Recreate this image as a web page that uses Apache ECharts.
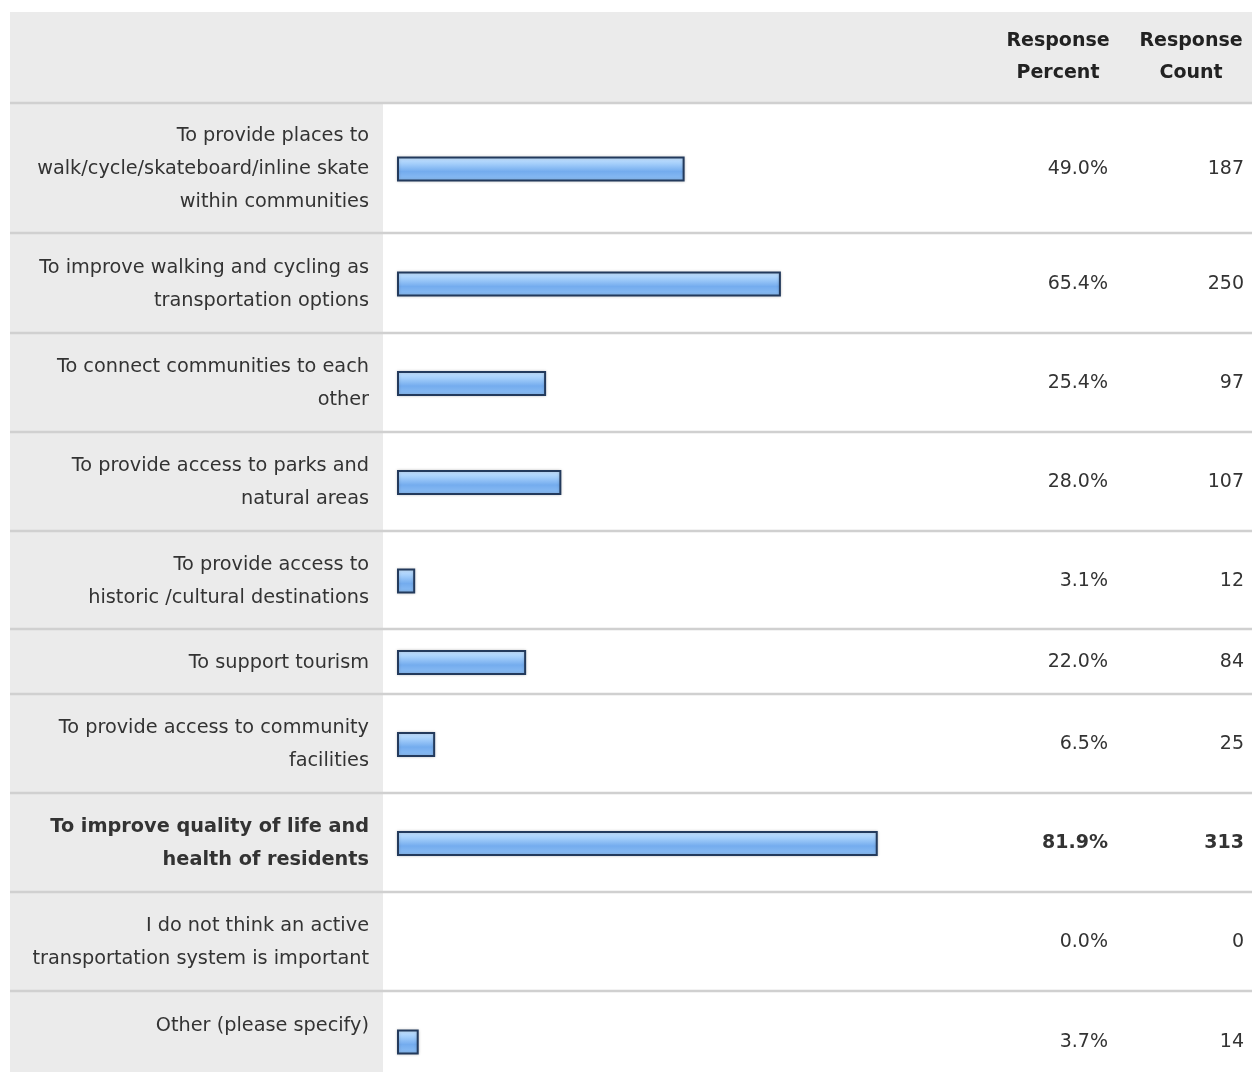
<!DOCTYPE html>
<html>
<head>
<meta charset="utf-8">
<script src="https://cdn.jsdelivr.net/npm/echarts@6/dist/echarts.min.js"></script>
<style>
html,body{margin:0;padding:0;background:#fff;}
#chart{width:1252px;height:1072px;}
</style>
</head>
<body>
<div id="chart"></div>
<script>
// ---------- data ----------
const categories = [
  "To provide places to\nwalk/cycle/skateboard/inline skate\nwithin communities",
  "To improve walking and cycling as\ntransportation options",
  "To connect communities to each\nother",
  "To provide access to parks and\nnatural areas",
  "To provide access to\nhistoric /cultural destinations",
  "To support tourism",
  "To provide access to community\nfacilities",
  "To improve quality of life and\nhealth of residents",
  "I do not think an active\ntransportation system is important",
  "Other (please specify)"
];
const responsePercent = [49.0, 65.4, 25.4, 28.0, 3.1, 22.0, 6.5, 81.9, 0.0, 3.7];
const responseCount = [187, 250, 97, 107, 12, 84, 25, 313, 0, 14];
const columnHeaders = ["Response\nPercent", "Response\nCount"];

// ---------- layout / style ----------
const rowEdges = [103, 233, 333, 432, 531, 629, 694, 793, 892, 991, 1091];
const boldRows = [7];
const topAlignedRows = [9];
const FONT = "DejaVu Sans";
const TEXT = "#333333";
const barLeft = 397, barWidthPx = 587;

const barFill = {
  type: 'linear', x: 0, y: 0, x2: 0, y2: 1,
  colorStops: [
    { offset: 0, color: '#cbe6ff' },
    { offset: 0.3, color: '#a2cdfa' },
    { offset: 0.6, color: '#74acee' },
    { offset: 1, color: '#8fc0f5' }
  ]
};

const grids = [], xAxes = [], yAxes = [], series = [];
categories.forEach((cat, i) => {
  const top = rowEdges[i] + 1;
  const h = rowEdges[i + 1] - rowEdges[i];
  const bold = boldRows.includes(i) ? 'bold' : 'normal';
  grids.push({ left: barLeft, top: top, width: barWidthPx, height: h, outerBoundsMode: 'none', containLabel: false });
  xAxes.push({ type: 'value', gridIndex: i, min: 0, max: 100, show: false });
  const base = { type: 'category', gridIndex: i, data: [cat],
    axisLine: { show: false }, axisTick: { show: false }, splitLine: { show: false } };
  yAxes.push(Object.assign({}, base, {
    position: 'left',
    axisLabel: { margin: 28, fontFamily: FONT, fontSize: 19.3, lineHeight: 33, color: TEXT,
      fontWeight: bold, align: 'right',
      verticalAlign: topAlignedRows.includes(i) ? 'bottom' : 'middle' }
  }));
  yAxes.push(Object.assign({}, base, {
    position: 'right',
    axisLabel: { margin: 124, align: 'right', fontFamily: FONT, fontSize: 19, color: TEXT, fontWeight: bold,
      formatter: () => responsePercent[i].toFixed(1) + '%' }
  }));
  yAxes.push(Object.assign({}, base, {
    position: 'right',
    axisLabel: { margin: 260, align: 'right', fontFamily: FONT, fontSize: 19, color: TEXT, fontWeight: bold,
      formatter: () => String(responseCount[i]) }
  }));
  const v = responsePercent[i];
  series.push({
    type: 'bar', xAxisIndex: i, yAxisIndex: 3 * i, barWidth: 25, silent: true,
    data: [v === 0 ? { value: v, itemStyle: { borderWidth: 0, opacity: 0 } } : v],
    itemStyle: { color: barFill, borderColor: '#233a5c', borderWidth: 2,
      shadowBlur: 3, shadowColor: 'rgba(0,0,0,0.18)' }
  });
});

const graphics = [
  { type: 'rect', z: -10, shape: { x: 10, y: 12, width: 1242, height: 91 }, style: { fill: '#ebebeb' } },
  { type: 'rect', z: -10, shape: { x: 10, y: 103, width: 373, height: 969 }, style: { fill: '#ebebeb' } }
];
rowEdges.slice(0, -1).forEach(y => {
  graphics.push({ type: 'line', z: -5, shape: { x1: 10, y1: y, x2: 1252, y2: y },
    style: { stroke: '#d0d0d0', lineWidth: 2.5 } });
});
const headerX = [1058, 1191];
columnHeaders.forEach((t, k) => {
  graphics.push({ type: 'text', x: headerX[k], y: 25,
    style: { text: t, align: 'center', verticalAlign: 'top', fontFamily: FONT, fontSize: 19,
      fontWeight: 'bold', lineHeight: 32, fill: '#222222' } });
});

const chart = echarts.init(document.getElementById('chart'), null, { renderer: 'canvas' });
chart.setOption({
  animation: false,
  backgroundColor: '#ffffff',
  grid: grids,
  xAxis: xAxes,
  yAxis: yAxes,
  series: series,
  graphic: graphics
});
</script>
</body>
</html>
